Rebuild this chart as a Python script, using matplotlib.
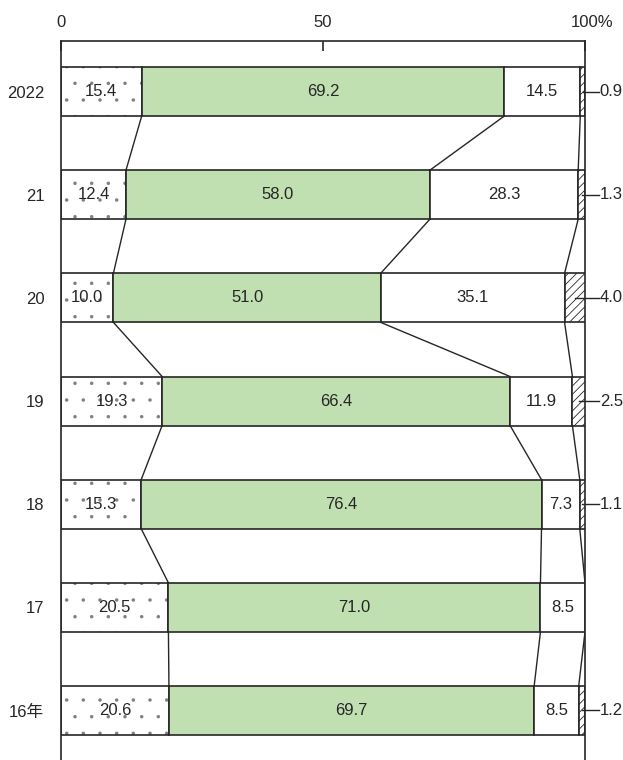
import numpy as np
import matplotlib
matplotlib.use('Agg')
import matplotlib.pyplot as plt
import matplotlib.transforms as mtransforms

plt.rcParams['font.family'] = ['Liberation Sans', 'Noto Sans CJK JP']

years = ['2022', '21', '20', '19', '18', '17', '16年']
dotted = [15.4, 12.4, 10.0, 19.3, 15.3, 20.5, 20.6]
green = [69.2, 58.0, 51.0, 66.4, 76.4, 71.0, 69.7]
white = [14.5, 28.3, 35.1, 11.9, 7.3, 8.5, 8.5]
hatched = [0.9, 1.3, 4.0, 2.5, 1.1, 0.0, 1.2]

ink = '#262626'
fs = 12

fig = plt.figure(figsize=(6.23, 7.6), dpi=100)
ax = fig.add_axes([61 / 623, 0, 524 / 623, 719 / 760])

y = np.arange(len(years))
h = 0.475
d = np.array(dotted)
g = np.array(green)
w = np.array(white)
s = np.array(hatched)
c1 = d
c2 = d + g
c3 = d + g + w

# dotted segment: grey dot texture first, then the dark outline on top
plt.rcParams['hatch.linewidth'] = 0.1
ax.barh(y, d, height=h, color='white', edgecolor='#808080', hatch='.', lw=0)
ax.barh(y, d, height=h, fill=False, edgecolor=ink, lw=1.2)
plt.rcParams['hatch.linewidth'] = 0.6
ax.barh(y, g, left=c1, height=h, color='#c1e0b2', edgecolor=ink, lw=1.2)
ax.barh(y, w, left=c2, height=h, color='white', edgecolor=ink, lw=1.2)
for i in range(len(years)):
    if s[i] > 0:
        ax.barh(y[i], s[i], left=c3[i], height=h, color='white',
                edgecolor=ink, hatch='////', lw=1.2)

# lines joining segment boundaries between neighbouring years
for i in range(len(years) - 1):
    for cum in (c1, c2, c3):
        ax.plot([cum[i], cum[i + 1]], [y[i] + h / 2, y[i + 1] - h / 2],
                color=ink, lw=1.0)

# value labels
for i in range(len(years)):
    ax.text(d[i] / 2, y[i], f'{d[i]:.1f}', ha='center', va='center', fontsize=fs, color=ink)
    ax.text(c1[i] + g[i] / 2, y[i], f'{g[i]:.1f}', ha='center', va='center', fontsize=fs, color=ink)
    ax.text(c2[i] + w[i] / 2, y[i], f'{w[i]:.1f}', ha='center', va='center', fontsize=fs, color=ink)
    if s[i] > 0:
        mid = c3[i] + min(s[i], 100 - c3[i]) / 2
        ax.plot([mid, 102.6], [y[i], y[i]], color=ink, lw=1.0, clip_on=False)
        ax.text(102.8, y[i], f'{s[i]:.1f}', ha='left', va='center', fontsize=fs, color=ink)

ax.set_xlim(0, 100)
ax.set_ylim(6.48, -0.49)
ax.set_yticks(y)
ax.set_yticklabels(years, fontsize=fs, color=ink)
ax.tick_params(axis='y', length=0, pad=12)

ax.xaxis.tick_top()
ax.set_xticks([0, 50, 100])
ax.set_xticklabels(['0', '50', '100%'], fontsize=fs, color=ink)
ax.tick_params(axis='x', direction='in', length=7, width=1.2, color=ink, pad=8)
# keep "100" centred on its tick with the % sign trailing
last = ax.get_xticklabels()[-1]
last.set_ha('left')
last.set_transform(last.get_transform() +
                   mtransforms.ScaledTranslation(-14 / 100, 0, fig.dpi_scale_trans))

ax.spines['bottom'].set_visible(False)
for side in ('top', 'left', 'right'):
    ax.spines[side].set_color(ink)
    ax.spines[side].set_linewidth(1.2)

fig.savefig('out.png', dpi=100)
